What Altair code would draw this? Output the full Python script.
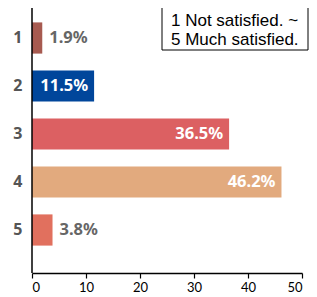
import altair as alt
import pandas as pd

categories = ["1", "2", "3", "4", "5"]
values = [1.9, 11.5, 36.5, 46.2, 3.8]
labels = ["1.9%", "11.5%", "36.5%", "46.2%", "3.8%"]
colors = ["#A75A50", "#00469B", "#DC6062", "#E2AA7E", "#E1705E"]
inside = [False, True, True, True, False]
legend_text = "1 Not satisfied. ~\n5 Much satisfied."

df = pd.DataFrame({"cat": categories, "value": values, "label": labels,
                   "color": colors, "inside": inside})

W, H = 270, 265

yscale = alt.Scale(domain=categories, range=[6, 246], paddingInner=0.35, paddingOuter=0.175)
xscale = alt.Scale(domain=[0, 50], nice=False)

base = alt.Chart(df)

bars = base.mark_bar().encode(
    y=alt.Y("cat:N", scale=yscale, sort=categories,
            axis=alt.Axis(title=None, domain=False, ticks=False, labelFontSize=16,
                          labelFontWeight="bold", labelColor="#555555",
                          labelFont="Noto Sans", labelPadding=10)),
    x=alt.X("value:Q", scale=xscale,
            axis=alt.Axis(title=None, values=[0, 10, 20, 30, 40, 50], grid=False,
                          domainColor="black", domainWidth=1.5, tickColor="black",
                          tickSize=5, tickWidth=1.2, labelFontSize=13, labelColor="black",
                          labelFont="Lato", labelPadding=3, labelBound=False,
                          labelOverlap=False)),
    color=alt.Color("color:N", scale=None),
)

text_in = base.transform_filter("datum.inside").mark_text(
    align="right", baseline="middle", dx=-6, color="white", fontSize=16.5,
    fontWeight="bold", font="Noto Sans"
).encode(y=alt.Y("cat:N", scale=yscale, sort=categories),
         x=alt.X("value:Q", scale=xscale), text="label:N")

text_out = base.transform_filter("!datum.inside").mark_text(
    align="left", baseline="middle", dx=7, color="#666666", fontSize=16.5,
    fontWeight="bold", font="Noto Sans"
).encode(y=alt.Y("cat:N", scale=yscale, sort=categories),
         x=alt.X("value:Q", scale=xscale), text="label:N")

yline = alt.Chart(pd.DataFrame({"a": [0]})).mark_rule(color="black", strokeWidth=1.5).encode(
    x=alt.value(0), y=alt.value(-3), y2=alt.value(H))

box = alt.Chart(pd.DataFrame({"a": [0]})).mark_rect(
    fill="white", stroke="black", strokeWidth=1).encode(
    x=alt.value(130), x2=alt.value(276), y=alt.value(-5), y2=alt.value(42))

legend = alt.Chart(pd.DataFrame({"t": [legend_text]})).mark_text(
    align="left", baseline="alphabetic", fontSize=17, font="Liberation Sans",
    color="black", lineBreak="\n", lineHeight=19).encode(
    x=alt.value(139), y=alt.value(18), text="t:N")

chart = alt.layer(bars, text_in, text_out, yline, box, legend).properties(
    width=W, height=H,
    autosize=alt.AutoSizeParams(type="none"),
    padding={"left": 24, "top": 0, "right": 7, "bottom": 24},
).configure_view(stroke=None)

chart.save("out.html", embed_options={"renderer": "svg", "actions": False})
